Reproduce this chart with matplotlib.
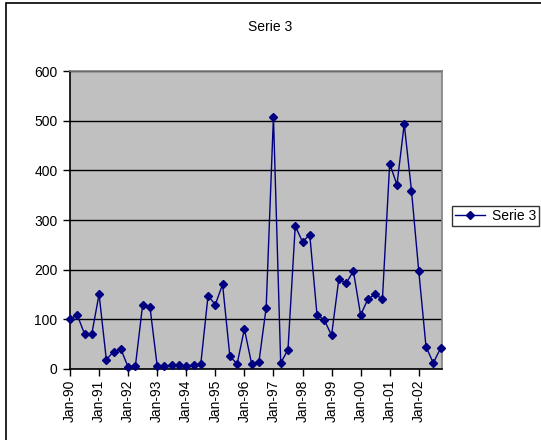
import matplotlib
matplotlib.use("Agg")
import matplotlib.pyplot as plt
from matplotlib.patches import Rectangle

plt.rcParams['font.family'] = ['Liberation Sans', 'DejaVu Sans']

# quarterly values Jan-90 .. Oct-02
values = [100, 108, 70, 70, 150, 18, 34, 39,
          3, 5, 129, 125, 5, 5, 7, 7,
          5, 7, 9, 147, 129, 170, 25, 9,
          80, 9, 13, 123, 509, 11, 38, 288,
          256, 270, 108, 98, 67, 181, 172, 197,
          108, 140, 150, 140, 414, 371, 494, 359,
          197, 44, 11, 41]
tick_labels = ["Jan-90", "Jan-91", "Jan-92", "Jan-93", "Jan-94", "Jan-95", "Jan-96",
               "Jan-97", "Jan-98", "Jan-99", "Jan-00", "Jan-01", "Jan-02"]
series_name = "Serie 3"
yticks = [0, 100, 200, 300, 400, 500, 600]

W, H = 541, 440
fig = plt.figure(figsize=(W/100, H/100), dpi=100)
fig.patch.set_facecolor('white')

# outer chart border
fig.patches.append(Rectangle((6/W, -0.1), 1.2, 1 - 3.5/H + 0.1,
                             transform=fig.transFigure, fill=False,
                             edgecolor='black', linewidth=1.2))

ax = fig.add_axes([70/W, 1 - 368.5/H, (442-70)/W, (368.5-71.5)/H])
ax.set_facecolor('#c0c0c0')

x = list(range(len(values)))
line, = ax.plot(x, values, color='#000080', linewidth=1.0, marker='D',
                markersize=4.5, markerfacecolor='#000080', markeredgecolor='#000080',
                label=series_name, zorder=3, clip_on=False)

ax.set_xlim(0, 51.2)
ax.set_ylim(0, 600)
ax.set_yticks(yticks)
ax.yaxis.grid(True, color='black', linewidth=1.0)
ax.set_axisbelow(True)
ax.set_xticks([4*i for i in range(len(tick_labels))])
ax.set_xticklabels(tick_labels, rotation=90, fontsize=10)
ax.tick_params(axis='y', labelsize=10, direction='out', length=5, width=1, pad=4)
ax.tick_params(axis='x', direction='out', length=5, width=1, pad=3)

for s in ['top', 'right']:
    ax.spines[s].set_color('#808080')
    ax.spines[s].set_linewidth(1.2)
for s in ['left', 'bottom']:
    ax.spines[s].set_color('black')
    ax.spines[s].set_linewidth(1.2)

fig.text(270/W, 1 - 27/H, series_name, ha='center', va='center', fontsize=10)

leg = fig.legend(handles=[line], loc='upper left',
                 bbox_to_anchor=(452/W, 1 - 206/H), bbox_transform=fig.transFigure,
                 fancybox=False, frameon=True, fontsize=10, handlelength=2.2,
                 borderpad=0.2, handletextpad=0.5, borderaxespad=0)
leg.get_frame().set_edgecolor('black')
leg.get_frame().set_linewidth(1.0)

fig.savefig('out.png', dpi=100)
